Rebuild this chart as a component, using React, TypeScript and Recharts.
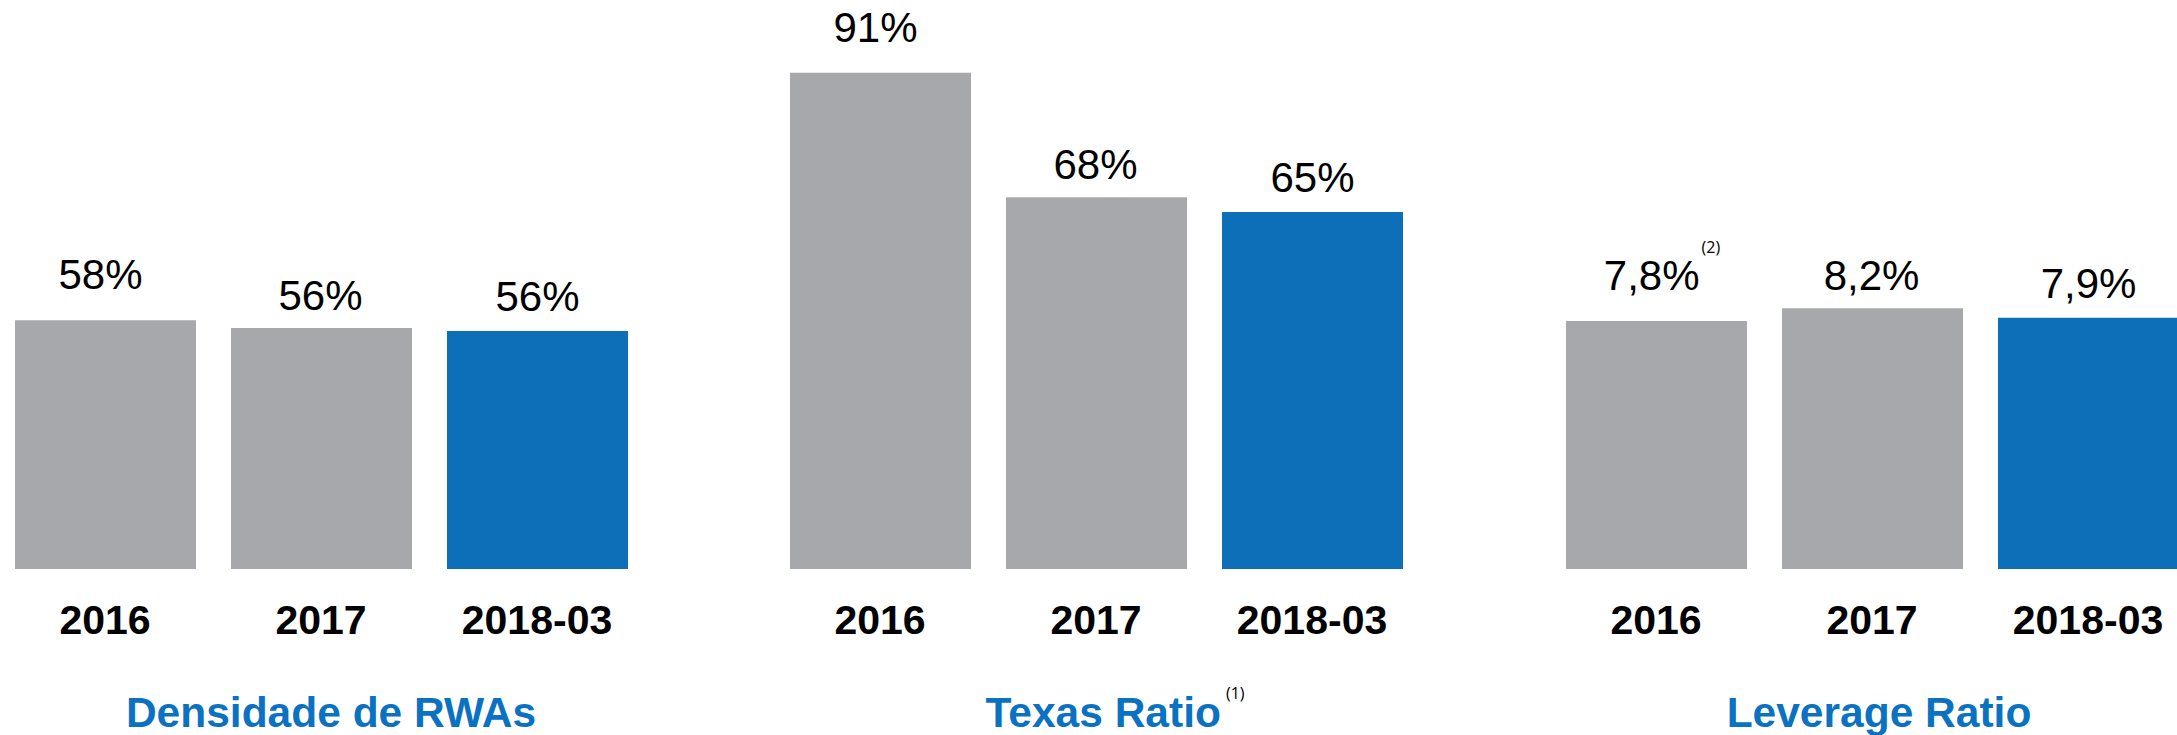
import { BarChart, Bar, XAxis, YAxis, Cell, LabelList } from 'recharts';

/* ---------------------------------------------------------------------------
   Data
   --------------------------------------------------------------------------- */

const CATEGORIES = ['2016', '2017', '2018-03'];

const RWA_DENSITY = [58.0, 56.2, 55.5];
const RWA_LABELS = ['58%', '56%', '56%'];

const TEXAS_RATIO = [90.9, 68.1, 65.4];
const TEXAS_LABELS = ['91%', '68%', '65%'];

const LEVERAGE_RATIO = [7.8, 8.2, 7.9];
const LEVERAGE_LABELS = ['7,8%', '8,2%', '7,9%'];
const LEVERAGE_NOTES = ['(2)', '', ''];

const TITLES = ['Densidade de RWAs', 'Texas Ratio', 'Leverage Ratio'];
const TITLE_NOTES = ['', '(1)', ''];

/* ---------------------------------------------------------------------------
   Styling
   --------------------------------------------------------------------------- */

const FONT = '"Liberation Sans", Arial, sans-serif';
const NOTE_FONT = '"Open Sans", "Noto Sans", sans-serif';
const GREY = '#A7A8AB';
const BLUE = '#0D6FB7';
const TITLE_BLUE = '#0B72C2';
const BAR_COLORS = [GREY, GREY, BLUE];

const PANEL_W = 648;
const PANEL_H = 735;
const PLOT_TOP = 40;
const AXIS_H = 166; // plot bottom sits at y = 569

// first label in each panel sits a bit higher and to the left
const LABEL_GAP = [31, 18, 20];
const LABEL_DX = [-5, -1, 0];

/* ---------------------------------------------------------------------------
   Pieces
   --------------------------------------------------------------------------- */

function CategoryTick({ x, y, payload }: any) {
  return (
    <text
      x={x}
      y={y + 64.5}
      textAnchor="middle"
      fontFamily={FONT}
      fontWeight={700}
      fontSize={41}
      fill="#000"
    >
      {payload.value}
    </text>
  );
}

function makeValueLabel(notes: string[]) {
  return (props: any) => {
    const { x, y, width, index, value } = props;
    const note = notes[index] || '';
    const cx = x + width / 2 + LABEL_DX[index] + (note ? 10.5 : 0);
    return (
      <text
        x={cx}
        y={y - LABEL_GAP[index]}
        textAnchor="middle"
        fontFamily={FONT}
        fontSize={42}
        fill="#000"
      >
        <tspan>{value}</tspan>
        {note && (
          <tspan dx={2} dy={-37} fontSize={16} fontFamily={NOTE_FONT}>
            {note}
          </tspan>
        )}
      </text>
    );
  };
}

interface PanelProps {
  left: number;
  values: number[];
  labels: string[];
  notes?: string[];
  yMax: number;
  title: string;
  titleNote: string;
  titleDx: number;
}

function Panel({ left, values, labels, notes = [], yMax, title, titleNote, titleDx }: PanelProps) {
  const rows = CATEGORIES.map((name, i) => ({ name, value: values[i], label: labels[i] }));
  const titleX = PANEL_W / 2 + titleDx + (titleNote ? 13 : 0);

  return (
    <div style={{ position: 'absolute', left, top: 0, width: PANEL_W, height: PANEL_H }}>
      <BarChart
        width={PANEL_W}
        height={PANEL_H}
        data={rows}
        margin={{ top: PLOT_TOP, right: 0, left: 0, bottom: 0 }}
      >
        <XAxis
          dataKey="name"
          axisLine={false}
          tickLine={false}
          tickSize={0}
          tickMargin={0}
          interval={0}
          height={AXIS_H}
          tick={<CategoryTick />}
        />
        <YAxis hide domain={[0, yMax]} allowDataOverflow />
        <Bar dataKey="value" barSize={181} isAnimationActive={false}>
          {rows.map((r, i) => (
            <Cell key={r.name} fill={BAR_COLORS[i]} />
          ))}
          <LabelList dataKey="label" content={makeValueLabel(notes)} />
        </Bar>
      </BarChart>
      <svg
        width={PANEL_W}
        height={PANEL_H}
        style={{ position: 'absolute', left: 0, top: 0, pointerEvents: 'none' }}
      >
        <text
          x={titleX}
          y={726.7}
          textAnchor="middle"
          fontFamily={FONT}
          fontWeight={700}
          fontSize={42.5}
          fill={TITLE_BLUE}
        >
          <tspan>{title}</tspan>
          {titleNote && (
            <tspan dx={5} dy={-28} fontSize={16} fontWeight={400} fill="#000" fontFamily={NOTE_FONT}>
              {titleNote}
            </tspan>
          )}
        </text>
      </svg>
    </div>
  );
}

export default function App() {
  return (
    <div
      style={{
        position: 'absolute',
        left: 0,
        top: 0,
        width: 2177,
        height: 735,
        overflow: 'hidden',
        background: '#fff',
      }}
    >
      <Panel
        left={-3.5}
        values={RWA_DENSITY}
        labels={RWA_LABELS}
        yMax={123.3}
        title={TITLES[0]}
        titleNote={TITLE_NOTES[0]}
        titleDx={10}
      />
      <Panel
        left={771.6}
        values={TEXAS_RATIO}
        labels={TEXAS_LABELS}
        yMax={96.9}
        title={TITLES[1]}
        titleNote={TITLE_NOTES[1]}
        titleDx={6}
      />
      <Panel
        left={1547.5}
        values={LEVERAGE_RATIO}
        labels={LEVERAGE_LABELS}
        notes={LEVERAGE_NOTES}
        yMax={16.64}
        title={TITLES[2]}
        titleNote={TITLE_NOTES[2]}
        titleDx={7}
      />
    </div>
  );
}
